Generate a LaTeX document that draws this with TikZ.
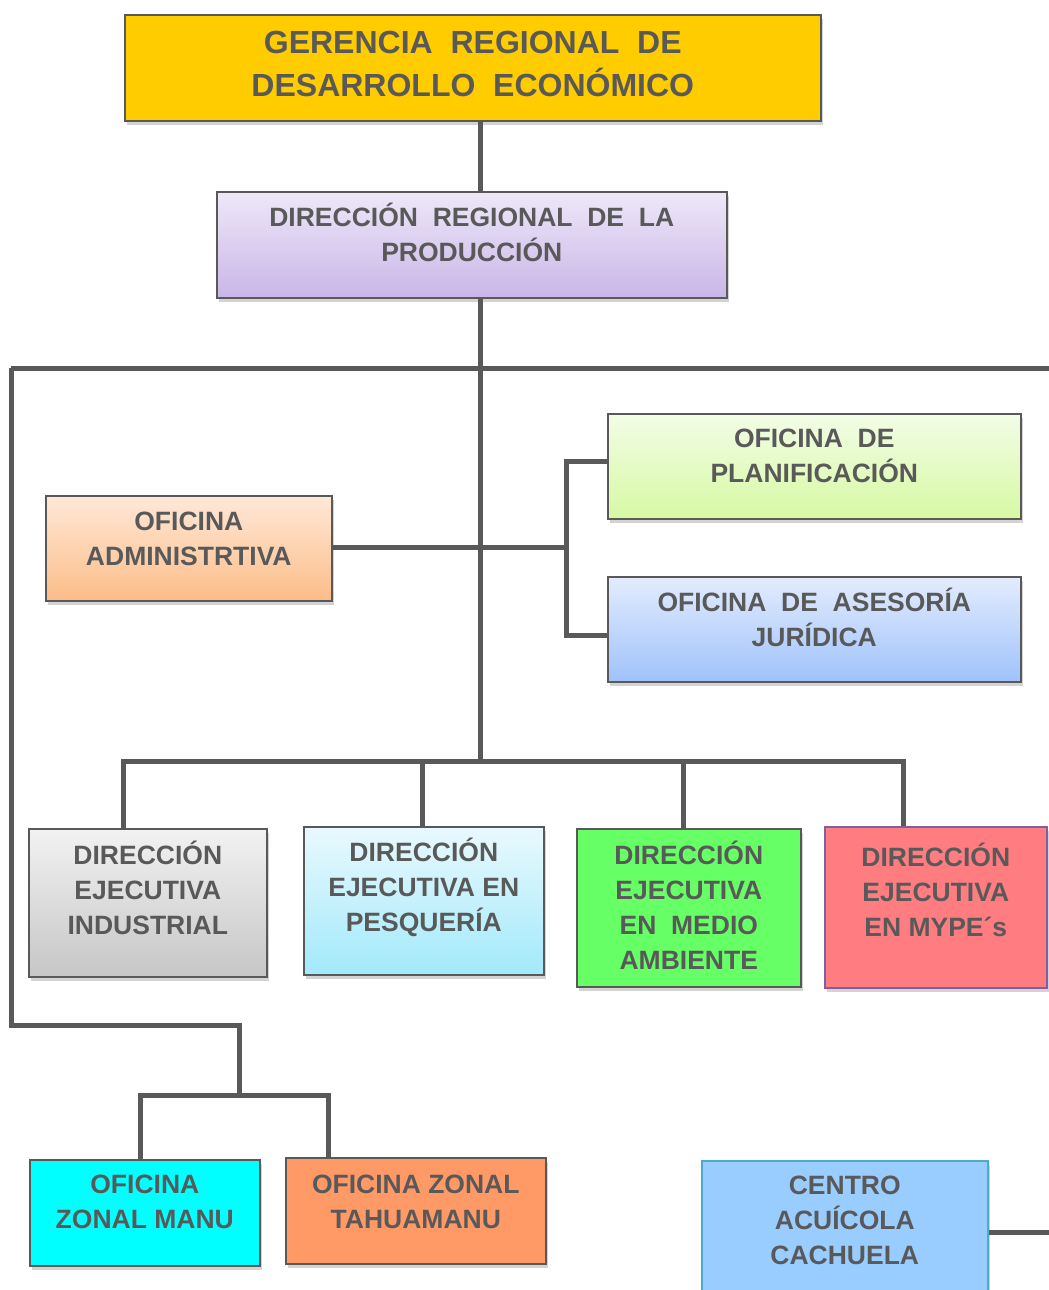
\documentclass[tikz,border=0pt]{standalone}
\usepackage{fontspec}
\setmainfont{Liberation Sans}
\usetikzlibrary{shadows}
\definecolor{textGray}{HTML}{595959}
\definecolor{lineGray}{HTML}{595959}
\newcommand{\boxFont}{\fontsize{26.5}{35}\selectfont\bfseries}
\newcommand{\topFont}{\fontsize{32}{43}\selectfont\bfseries}
\newcommand{\linkWidth}{5pt}
\newcommand{\pageWidth}{1049}
\newcommand{\pageHeight}{1290}

\begin{document}
\begin{tikzpicture}[x=1pt, y=-1pt,
    unit/.style={draw=lineGray, line width=1.6pt, anchor=north west, inner sep=0pt,
      drop shadow={shadow xshift=2pt, shadow yshift=-4pt, opacity=0.35}},
    caption/.style={text=textGray, align=center, inner sep=0pt, font=\boxFont},
    link/.style={draw=lineGray, line width=\linkWidth}]
\useasboundingbox (0,0) rectangle (\pageWidth,\pageHeight);
\clip (0,0) rectangle (\pageWidth,\pageHeight);

\node[unit, fill={rgb,255:red,255;green,204;blue,0}, minimum width=696, minimum height=106] (ger) at (124,14) {};
\node[caption, font=\topFont] (gerText) at ([yshift=4pt]ger.center) {GERENCIA~~REGIONAL~~DE\\DESARROLLO~~ECONÓMICO};

\node[unit, top color={rgb,255:red,238;green,232;blue,248}, bottom color={rgb,255:red,201;green,182;blue,232}, minimum width=510, minimum height=106] (dir) at (216,191) {};
\node[caption] (dirText) at ([yshift=12pt]dir.center) {DIRECCIÓN~~REGIONAL~~DE~~LA\\PRODUCCIÓN};

\node[unit, top color={rgb,255:red,242;green,253;blue,230}, bottom color={rgb,255:red,215;green,249;blue,163}, minimum width=413, minimum height=105] (plan) at (607,413) {};
\node[caption] (planText) at ([yshift=10pt]plan.center) {OFICINA~~DE\\PLANIFICACIÓN};

\node[unit, top color={rgb,255:red,227;green,236;blue,253}, bottom color={rgb,255:red,159;green,194;blue,251}, minimum width=413, minimum height=105] (jur) at (607,576) {};
\node[caption] (jurText) at ([yshift=12pt]jur.center) {OFICINA~~DE~~ASESORÍA\\JURÍDICA};

\node[unit, top color={rgb,255:red,255;green,232;blue,216}, bottom color={rgb,255:red,252;green,189;blue,136}, minimum width=286, minimum height=105] (adm) at (45,495) {};
\node[caption] (admText) at ([yshift=9pt]adm.center) {OFICINA\\ADMINISTRTIVA};

\node[unit, top color={rgb,255:red,242;green,242;blue,242}, bottom color={rgb,255:red,198;green,198;blue,198}, minimum width=238, minimum height=148] (ind) at (28,828) {};
\node[caption] (indText) at ([yshift=15pt]ind.center) {DIRECCIÓN\\EJECUTIVA\\INDUSTRIAL};

\node[unit, top color={rgb,255:red,233;green,249;blue,254}, bottom color={rgb,255:red,162;green,233;blue,251}, minimum width=240, minimum height=148] (pes) at (303,826) {};
\node[caption] (pesText) at ([yshift=13pt]pes.center) {DIRECCIÓN\\EJECUTIVA EN\\PESQUERÍA};

\node[unit, fill={rgb,255:red,102;green,255;blue,102}, minimum width=224, minimum height=158] (amb) at (576,828) {};
\node[caption] (ambText) at ([yshift=3pt]amb.center) {DIRECCIÓN\\EJECUTIVA\\EN~~MEDIO\\AMBIENTE};

\node[unit, draw={rgb,255:red,127;green,95;blue,160}, fill={rgb,255:red,255;green,124;blue,128}, minimum width=222, minimum height=161] (mype) at (824,826) {};
\node[caption] (mypeText) at ([yshift=17pt]mype.center) {DIRECCIÓN\\EJECUTIVA\\EN MYPE´s};

\node[unit, fill={rgb,255:red,0;green,255;blue,255}, minimum width=230, minimum height=106] (manu) at (29,1159) {};
\node[caption] (manuText) at ([yshift=11pt]manu.center) {OFICINA\\ZONAL MANU};

\node[unit, fill={rgb,255:red,255;green,153;blue,102}, minimum width=260, minimum height=106] (tahu) at (285,1157) {};
\node[caption] (tahuText) at ([yshift=9pt]tahu.center) {OFICINA ZONAL\\TAHUAMANU};

\node[unit, draw={rgb,255:red,75;green,172;blue,198}, fill={rgb,255:red,153;green,204;blue,255}, minimum width=286, minimum height=150] (cen) at (701,1160) {};
\node[caption] (cenText) at ([yshift=15pt]cen.center) {CENTRO\\ACUÍCOLA\\CACHUELA};

\coordinate (trunk) at (480,368);
\coordinate (leftEnd) at (11,368);
\coordinate (rightEnd) at (\pageWidth,368);
\coordinate (admJoin) at (566,547);
\coordinate (planJoin) at (566,461);
\coordinate (jurJoin) at (566,635);
\coordinate (bus) at (480,761);
\coordinate (busA) at (123,761);
\coordinate (busB) at (422,761);
\coordinate (busC) at (683,761);
\coordinate (busD) at (903,761);
\coordinate (zonal) at (239,1025);
\coordinate (zonalBus) at (239,1095);
\coordinate (zonalA) at (140,1095);
\coordinate (zonalB) at (328,1095);
\coordinate (cenLink) at (\pageWidth,1232);

\draw[link] (ger.south -| trunk) -- (dir.north -| trunk);
\draw[link] (dir.south -| trunk) -- (bus);
\draw[link] (leftEnd) -- (rightEnd);
\draw[link] (adm.east |- admJoin) -- (admJoin);
\draw[link, line join=miter] (planJoin -| plan.west) -- (planJoin) -- (jurJoin) -- (jurJoin -| jur.west);
\draw[link, line cap=rect] (busA) -- (busD);
\draw[link] (busA) -- (busA |- ind.north);
\draw[link] (busB) -- (busB |- pes.north);
\draw[link] (busC) -- (busC |- amb.north);
\draw[link] (busD) -- (busD |- mype.north);
\draw[link, line join=miter] (leftEnd) |- (zonal) -- (zonalBus);
\draw[link, line cap=rect] (zonalA) -- (zonalB);
\draw[link] (zonalA) -- (zonalA |- manu.north);
\draw[link] (zonalB) -- (zonalB |- tahu.north);
\draw[link] (cen.east |- cenLink) -- (cenLink);
\end{tikzpicture}
\end{document}
